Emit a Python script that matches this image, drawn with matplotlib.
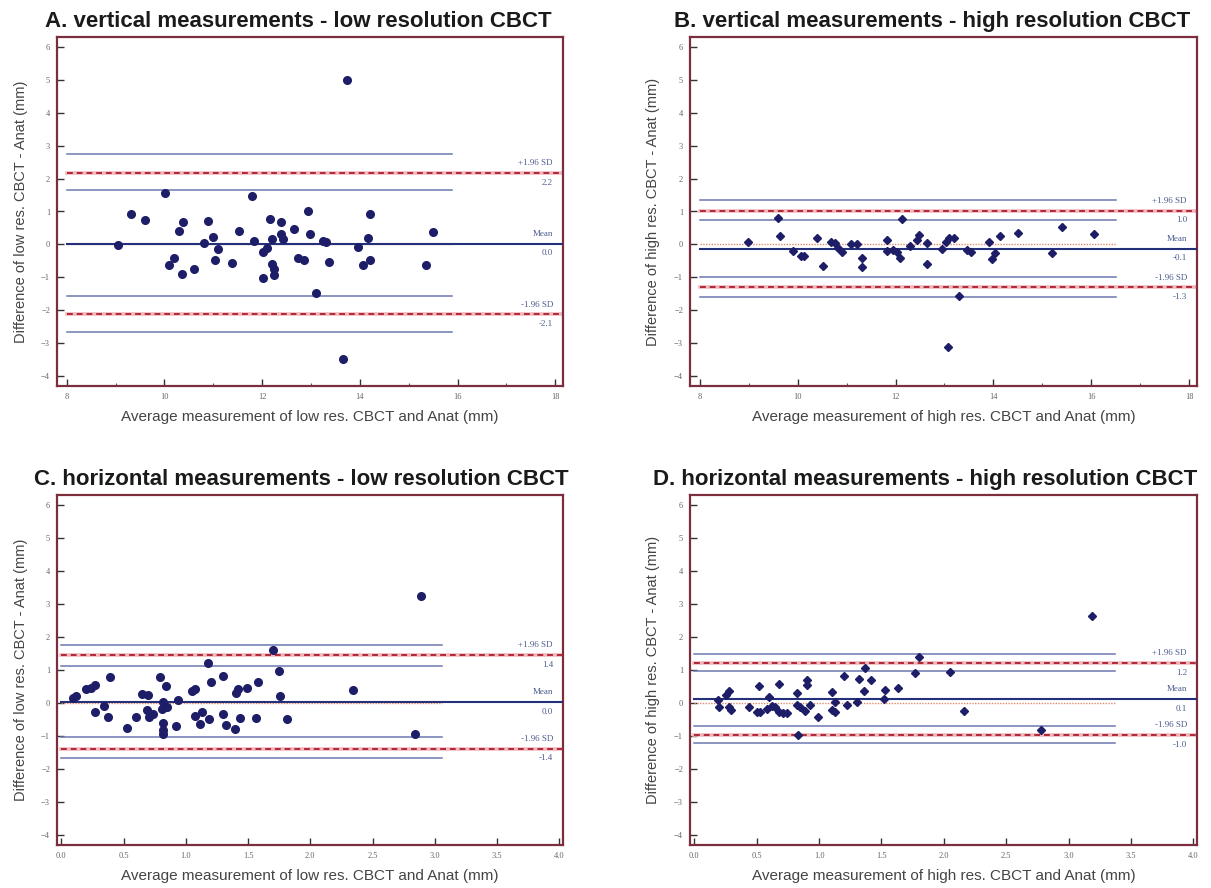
import matplotlib
matplotlib.use("Agg")
import matplotlib.pyplot as plt

# ---- data ----
titles = ["A. vertical measurements - low resolution CBCT",
          "B. vertical measurements - high resolution CBCT",
          "C. horizontal measurements - low resolution CBCT",
          "D. horizontal measurements - high resolution CBCT"]
ylabels = ["Difference of low res. CBCT - Anat (mm)",
           "Difference of high res. CBCT - Anat (mm)",
           "Difference of low res. CBCT - Anat (mm)",
           "Difference of high res. CBCT - Anat (mm)"]
xlabels = ["Average measurement of low res. CBCT and Anat (mm)",
           "Average measurement of high res. CBCT and Anat (mm)",
           "Average measurement of low res. CBCT and Anat (mm)",
           "Average measurement of high res. CBCT and Anat (mm)"]

a_x = [9.04, 9.31, 9.61, 10.02, 10.10, 10.20, 10.29, 10.35, 10.38, 10.61, 10.80, 10.89,
       11.00, 11.04, 11.09, 11.39, 11.53, 11.80, 11.84, 12.02, 12.02, 12.10, 12.16, 12.20,
       12.20, 12.24, 12.25, 12.38, 12.38, 12.42, 12.65, 12.73, 12.86, 12.93, 12.98, 13.10,
       13.25, 13.31, 13.36, 13.66, 13.73, 13.96, 14.06, 14.16, 14.20, 14.21, 15.36, 15.50]
a_y = [-0.02, 0.91, 0.74, 1.57, -0.63, -0.40, 0.41, -0.90, 0.69, -0.76, 0.03, 0.72,
       0.23, -0.47, -0.14, -0.56, 0.41, 1.46, 0.11, -0.22, -1.03, -0.12, 0.76, 0.15,
       -0.60, -0.76, -0.93, 0.67, 0.31, 0.15, 0.46, -0.40, -0.47, 1.01, 0.33, -1.48,
       0.11, 0.08, -0.53, -3.48, 5.00, -0.09, -0.61, 0.21, -0.47, 0.91, -0.61, 0.38]

b_x = [8.98, 9.59, 9.63, 9.91, 10.06, 10.12, 10.40, 10.52, 10.68, 10.76, 10.83, 10.91,
       11.08, 11.22, 11.31, 11.32, 11.82, 11.82, 11.94, 12.02, 12.10, 12.14, 12.30, 12.43,
       12.47, 12.64, 12.64, 12.94, 13.04, 13.10, 13.20, 13.30, 13.08, 13.46, 13.54, 13.91,
       13.98, 14.03, 14.14, 14.50, 15.19, 15.40, 16.06]
b_y = [0.08, 0.79, 0.25, -0.19, -0.34, -0.34, 0.21, -0.65, 0.08, 0.03, -0.12, -0.22,
       0.00, 0.00, -0.42, -0.68, 0.13, -0.19, -0.17, -0.22, -0.40, 0.76, -0.05, 0.13,
       0.28, 0.05, -0.58, -0.14, 0.08, 0.18, 0.21, -1.57, -3.13, -0.17, -0.22, 0.08,
       -0.44, -0.25, 0.26, 0.35, -0.27, 0.54, 0.31]

c_x = [0.094, 0.12, 0.20, 0.235, 0.27, 0.27, 0.345, 0.376, 0.39, 0.53, 0.60, 0.65,
       0.70, 0.69, 0.705, 0.74, 0.79, 0.805, 0.815, 0.82, 0.815, 0.815, 0.84, 0.845,
       0.92, 0.94, 1.05, 1.075, 1.07, 1.11, 1.13, 1.176, 1.19, 1.20, 1.295, 1.30,
       1.32, 1.395, 1.40, 1.42, 1.435, 1.49, 1.56, 1.58, 1.70, 1.75, 1.76, 1.81,
       2.34, 2.84, 2.89]
c_y = [0.15, 0.22, 0.41, 0.47, 0.54, -0.27, -0.10, -0.41, 0.78, -0.76, -0.43, 0.28,
       0.25, -0.20, -0.41, -0.32, 0.78, -0.18, 0.02, -0.61, -0.81, -0.94, 0.53, -0.12,
       -0.69, 0.10, 0.35, 0.41, -0.38, -0.63, -0.27, 1.22, -0.49, 0.63, -0.32, 0.81,
       -0.68, -0.79, 0.30, 0.41, -0.44, 0.46, -0.46, 0.63, 1.60, 0.96, 0.22, -0.49,
       0.38, -0.93, 3.24]

d_x = [0.19, 0.20, 0.256, 0.28, 0.28, 0.29, 0.44, 0.50, 0.52, 0.53, 0.58, 0.60,
       0.62, 0.65, 0.68, 0.68, 0.71, 0.74, 0.82, 0.82, 0.83, 0.85, 0.89, 0.90,
       0.90, 0.93, 0.99, 1.10, 1.10, 1.13, 1.13, 1.20, 1.22, 1.30, 1.32, 1.36,
       1.37, 1.42, 1.52, 1.53, 1.63, 1.77, 1.80, 2.05, 2.16, 2.78, 3.19]
d_y = [0.08, -0.12, 0.25, 0.35, -0.12, -0.22, -0.12, -0.27, 0.51, -0.27, -0.18, 0.18,
       -0.10, -0.12, 0.58, -0.28, -0.30, -0.30, 0.30, -0.05, -0.96, -0.12, -0.25, 0.71,
       0.56, -0.05, -0.41, 0.32, -0.22, -0.28, 0.02, 0.83, -0.05, 0.02, 0.74, 0.35,
       1.06, 0.71, 0.12, 0.38, 0.46, 0.91, 1.40, 0.94, -0.25, -0.81, 2.65]

# mean and limits of agreement, each with CI bounds
means = [0.02, -0.13, 0.03, 0.12]
upper = [2.17, 1.03, 1.45, 1.21]
lower = [-2.12, -1.30, -1.38, -0.97]
upper_ci = [(1.65, 2.75), (0.75, 1.35), (1.12, 1.76), (0.98, 1.49)]
lower_ci = [(-2.65, -1.57), (-1.60, -0.99), (-1.67, -1.03), (-1.22, -0.71)]
mean_txt = ["0.0", "-0.1", "0.0", "0.1"]
upper_txt = ["2.2", "1.0", "1.4", "1.2"]
lower_txt = ["-2.1", "-1.3", "-1.4", "-1.0"]
ci_end = [15.88, 16.51, 3.06, 3.37]

xs = [a_x, b_x, c_x, d_x]
ys = [a_y, b_y, c_y, d_y]
markers = ["o", "D", "o", "D"]
xlims = [(7.8, 18.16), (7.8, 18.16), (-0.035, 4.03), (-0.035, 4.03)]
xmajor = [list(range(8, 19, 2)), list(range(8, 19, 2)),
          [0.0, 0.5, 1.0, 1.5, 2.0, 2.5, 3.0, 3.5, 4.0],
          [0.0, 0.5, 1.0, 1.5, 2.0, 2.5, 3.0, 3.5, 4.0]]
xminor = [list(range(9, 18, 2)), list(range(9, 18, 2)), [], []]
xstart = [8, 8, 0, 0]

sans = ["Liberation Sans", "DejaVu Sans"]
serif = ["Liberation Serif", "DejaVu Serif"]
frame_col = "#7d2e3e"
navy = "#25307a"
ci_col = "#6b78b0"
red = "#b0283a"
txt_col = "#4f5c8e"

fig = plt.figure(figsize=(12.11, 8.88), dpi=100)
W, H = 1211, 888
boxes = [(57, 37, 563, 386), (690, 37, 1197, 386),
         (57, 495, 563, 845), (690, 495, 1197, 845)]
title_cx = [298, 932, 301, 925]

for i in range(4):
    l, t, r, b = boxes[i]
    ax = fig.add_axes([l / W, (H - b) / H, (r - l) / W, (b - t) / H])
    ax.set_xlim(*xlims[i])
    ax.set_ylim(-4.3, 6.3)
    x0 = xstart[i]
    xe = ci_end[i]
    xr = xlims[i][1]

    # confidence interval lines
    for v in list(upper_ci[i]) + list(lower_ci[i]):
        ax.plot([x0, xe], [v, v], color=ci_col, lw=1.1, zorder=2)
    # zero line
    ax.plot([x0, xe], [0, 0], color="#e08a6a", lw=1.0, ls=(0, (1, 1)), zorder=2)
    # mean line
    ax.plot([x0, xr], [means[i], means[i]], color=navy, lw=1.5, zorder=3)
    # limits of agreement
    for v in (upper[i], lower[i]):
        ax.plot([x0, xr], [v, v], color="#f2b8bc", lw=2.6, zorder=2)
        ax.plot([x0, xr], [v, v], color=red, lw=1.4, ls=(0, (3, 2)), zorder=3)

    ms = 5.5 if markers[i] == "o" else 4.1
    ax.plot(xs[i], ys[i], ls="none", marker=markers[i], ms=ms,
            color="#1d1d68", zorder=4)

    # right-hand labels
    tx = 1 - 10 / (r - l)
    for v, top, bot in ((upper[i], "+1.96 SD", upper_txt[i]),
                        (means[i], "Mean", mean_txt[i]),
                        (lower[i], "-1.96 SD", lower_txt[i])):
        for s, dy in ((top, 7), (bot, -7)):
            ax.annotate(s, xy=(tx, v), xycoords=("axes fraction", "data"),
                        xytext=(0, dy), textcoords="offset points",
                        ha="right", va="center", fontsize=6.5,
                        family=serif, color=txt_col)

    for sp in ax.spines.values():
        sp.set_color(frame_col)
        sp.set_linewidth(1.6)

    ax.set_yticks(range(-4, 7))
    ax.set_xticks(xmajor[i])
    ax.set_xticks(xminor[i], minor=True)
    if i >= 2:
        ax.set_xticklabels(["%.1f" % v for v in xmajor[i]])
    ax.tick_params(axis="both", which="major", direction="in", length=5,
                   width=1.0, color="#333333", labelsize=6, labelcolor="#666666",
                   pad=5)
    ax.tick_params(axis="x", which="minor", direction="in", length=2.5,
                   width=0.8, color="#555555")
    for lab in ax.get_xticklabels() + ax.get_yticklabels():
        lab.set_family(serif)

    ax.set_xlabel(xlabels[i], family=sans, fontsize=11, color="#444444")
    ax.xaxis.set_label_coords(0.5, -0.068)
    ax.set_ylabel(ylabels[i], family=sans, fontsize=10.5, color="#444444",
                  va="center")
    ax.yaxis.set_label_coords(-0.072, 0.5)
    ax.set_title(titles[i], family=sans, fontsize=16, fontweight="bold",
                 color="#1a1a1a", x=(title_cx[i] - l) / (r - l), pad=7)

fig.savefig("out.png", dpi=100)
